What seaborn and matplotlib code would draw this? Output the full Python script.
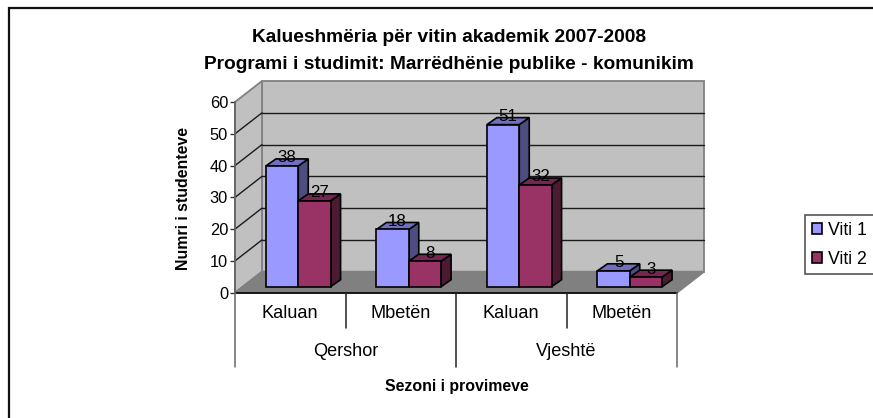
"""Pass rates chart drawn as a fake 3D column chart."""

import matplotlib
matplotlib.use("Agg")
import matplotlib.pyplot as plt
import pandas as pd
import seaborn as sns
from matplotlib.patches import Polygon, Rectangle

subcats = ["Kaluan", "Mbetën", "Kaluan", "Mbetën"]
seasons = ["Qershor", "Vjeshtë"]
series_names = ["Viti 1", "Viti 2"]
viti_1 = [38, 18, 51, 5]
viti_2 = [27, 8, 32, 3]
y_ticks = [0, 10, 20, 30, 40, 50, 60]

title = "Kalueshmëria për vitin akademik 2007-2008\nProgrami i studimit: Marrëdhënie publike - komunikim"
y_label = "Numri i studenteve"
x_label = "Sezoni i provimeve"

front_colors = ["#9999FF", "#993366"]
side_colors = ["#4D4D80", "#4D1A33"]
top_colors = ["#7070BF", "#732650"]

W, H = 873, 418
PLOT_W, PLOT_H = 442, 190.7
UX, UY = 4 / PLOT_W, 60 / PLOT_H   # data units per pixel
DEPTH = (27 * UX, 21 * UY)         # wall depth
BAR_SHIFT = (8 * UX, 6 * UY)       # bars stand a bit behind the front edge
BAR_DEPTH = (10 * UX, 7 * UY)

sns.set_theme(style="white")
plt.rcParams["font.family"] = ["Liberation Sans", "DejaVu Sans"]
plt.rcParams["text.color"] = "black"

fig = plt.figure(figsize=(W / 100, H / 100), dpi=100)
ax = fig.add_axes([235 / W, 1 - 292.7 / H, PLOT_W / W, PLOT_H / H])

df = pd.DataFrame({
    "pos": list(range(4)) * 2,
    "value": viti_1 + viti_2,
    "series": [series_names[0]] * 4 + [series_names[1]] * 4,
})
sns.barplot(data=df, x="pos", y="value", hue="series", palette=front_colors,
            width=0.585, gap=0, edgecolor="black", linewidth=1.2, saturation=1,
            legend=True, ax=ax)

ax.set_xlim(-0.5, 3.5)
ax.set_ylim(0, 60)
ax.set_xlabel("")
ax.set_ylabel("")
ax.set_xticks([])
ax.set_yticks(y_ticks)
ax.patch.set_visible(False)
for s in ax.spines.values():
    s.set_visible(False)
ax.tick_params(axis="y", left=True, length=3.5, width=1, color="#333333",
               labelsize=11.8, pad=1.5, labelcolor="black")

# walls and floor
x0, x1 = ax.get_xlim()
y0, y1 = ax.get_ylim()
dx, dy = DEPTH
faces = [
    ([(x0 + dx, y0 + dy), (x1 + dx, y0 + dy), (x1 + dx, y1 + dy), (x0 + dx, y1 + dy)], "#C0C0C0", "#808080", 0.5),
    ([(x0, y0), (x0 + dx, y0 + dy), (x0 + dx, y1 + dy), (x0, y1)], "#C0C0C0", "#808080", 0.5),
    ([(x0, y0), (x0 + dx, y0 + dy), (x1 + dx, y0 + dy), (x1, y0)], "#808080", "#808080", 1.5),
]
for pts, fc, ec, z in faces:
    ax.add_patch(Polygon(pts, fc=fc, ec=ec, lw=1.3, zorder=z, clip_on=False))

for t in y_ticks[1:-1]:
    ax.plot([x0 + dx, x1 + dx], [t + dy, t + dy], color="#1a1a1a", lw=1, zorder=1, clip_on=False)
for t in y_ticks[1:-1]:
    ax.plot([x0, x0 + dx], [t, t + dy], color="#1a1a1a", lw=1, zorder=1, clip_on=False)

# front edges
ax.plot([x0, x1], [y0, y0], color="black", lw=1.2, zorder=3, clip_on=False)
ax.plot([x0, x0], [y0, y1], color="#666666", lw=1.3, zorder=3, clip_on=False)

# move bars back on the floor and add the top and side faces
sx, sy = BAR_SHIFT
bx, by = BAR_DEPTH
for s_idx, cont in enumerate(ax.containers):
    for i, rect in enumerate(cont):
        val = rect.get_height()
        xa = rect.get_x() + sx
        xb = xa + rect.get_width()
        ya, yb = sy, sy + val
        rect.set_x(xa)
        rect.set_y(ya)
        rect.set_clip_on(False)
        z = 5 + i + s_idx * 0.5
        rect.set_zorder(z + 0.2)
        ax.add_patch(Polygon([(xb, ya), (xb + bx, ya + by), (xb + bx, yb + by), (xb, yb)],
                             fc=side_colors[s_idx], ec="black", lw=1.2, zorder=z, clip_on=False))
        ax.add_patch(Polygon([(xa, yb), (xa + bx, yb + by), (xb + bx, yb + by), (xb, yb)],
                             fc=top_colors[s_idx], ec="black", lw=1.2, zorder=z, clip_on=False))
        ax.text((xa + xb) / 2 + 5 * UX, yb + 8 * UY, f"{int(val)}", ha="center", va="center",
                fontsize=12.2, color="black", zorder=20)

# two level category axis under the front edge
for i, name in enumerate(subcats):
    ax.text(i, -20.5 * UY, name, ha="center", va="center", fontsize=13.1)
for i, name in enumerate(seasons):
    ax.text(0.5 + 2 * i, -58.5 * UY, name, ha="center", va="center", fontsize=13.1)
for edge in [-0.5, 0.5, 1.5, 2.5, 3.5]:
    drop = 74 if edge in (-0.5, 1.5, 3.5) else 35
    ax.plot([edge, edge], [0, -drop * UY], color="#666666" if edge in (-0.5, 3.5) else "#222222",
            lw=1.1, zorder=3, clip_on=False)

# titles
fig.text(449 / W, 1 - 51 / H, title, ha="center", va="center", fontsize=13.8,
         fontweight="bold", linespacing=1.75)
fig.text(183 / W, 1 - 198.5 / H, y_label, rotation=90, ha="center", va="center",
         fontsize=11.4, fontweight="bold")
fig.text(457 / W, 1 - 387 / H, x_label, ha="center", va="center",
         fontsize=11.4, fontweight="bold")

# legend box runs to the right edge of the picture
handles, labels = ax.get_legend_handles_labels()
ax.legend_.remove()
leg = fig.legend(handles, labels, loc="upper left", bbox_to_anchor=(805 / W, 1 - 215 / H),
                 frameon=True, fancybox=False, edgecolor="#555555", framealpha=1,
                 fontsize=12.8, handlelength=0.59, handleheight=0.59, handletextpad=0.34,
                 labelspacing=0.69, borderpad=0.37, borderaxespad=0)
leg.get_frame().set_linewidth(1.2)

# outer frame, only top and left fall inside the picture
frame = Rectangle((9 / W, -0.1), 1.1, 1 - 8 / H + 0.1, fc="none", ec="#111111",
                  lw=1.6, transform=fig.transFigure)
fig.add_artist(frame)

fig.savefig("out.png", dpi=100)
